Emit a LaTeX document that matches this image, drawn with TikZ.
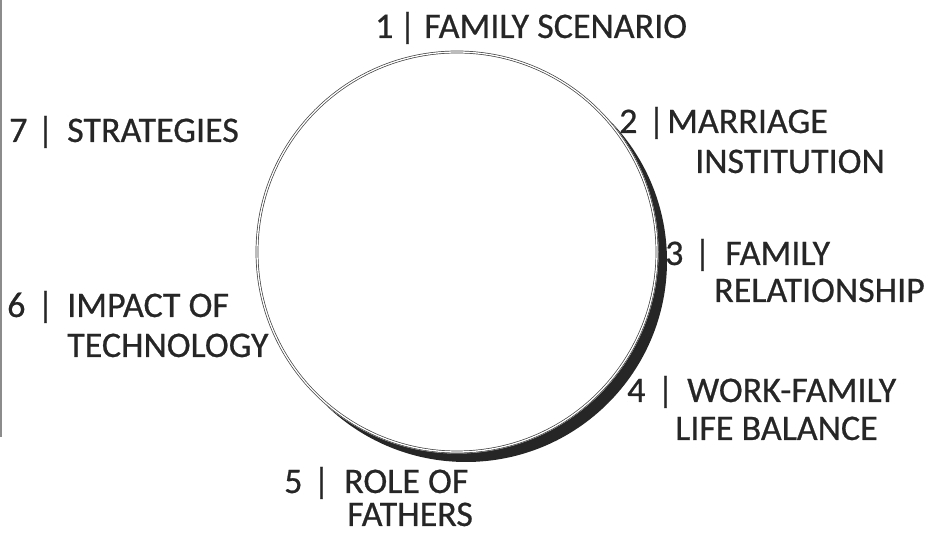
\documentclass[tikz,border=0pt]{standalone}
\usepackage{fontspec}
\setmainfont{Carlito}
\newfontfamily\labfont{Carlito}[FakeBold=0.6]
\begin{document}
\begin{tikzpicture}[x=1pt,y=1pt,
  lab/.style={anchor=base west, inner sep=0pt, font=\labfont\fontsize{36}{40}\selectfont, text=black!85},
  ring/.style={draw=black!75, line width=0.7pt, double=white, double distance=1.3pt},
  shade/.style={fill=black!85}]
\useasboundingbox (0,0) rectangle (935,534);
\draw[black!45, line width=2pt] (1,534) -- (1,97);
% circle with shadow
\fill[shade] (466,273) circle (201);
\fill[white] (457,282) circle (201.5);
\draw[ring] (457,282) circle (200);
% labels
\newcommand{\lbl}[8]{%
  \node[lab] (#1n) at (#2-3,#5) {#6};
  \node[lab] (#1b) at (#3-6,#5) {|};
  \node[lab] (#1t) at (#4-3,#5) {#7};
  #8}
\lbl{a}{378}{405}{427}{496}{1}{FAMILY SCENARIO}{}
\lbl{b}{622}{654}{670}{401}{2}{MARRIAGE}{\node[lab] (b2) at (698-3,361) {INSTITUTION};}
\lbl{c}{668}{700}{728}{269}{3}{FAMILY}{\node[lab] (c2) at (717-3,232) {RELATIONSHIP};}
\lbl{d}{630}{663}{690}{132}{4}{WORK-FAMILY}{\node[lab] (d2) at (678-3,94) {LIFE BALANCE};}
\lbl{e}{287}{319}{347}{41}{5}{ROLE OF}{\node[lab] (e2) at (350-3,8) {FATHERS};}
\lbl{f}{10}{43}{70}{217}{6}{IMPACT OF}{\node[lab] (f2) at (70-3,177) {TECHNOLOGY};}
\lbl{g}{12}{43}{70}{392}{7}{STRATEGIES}{}
\end{tikzpicture}
\end{document}
